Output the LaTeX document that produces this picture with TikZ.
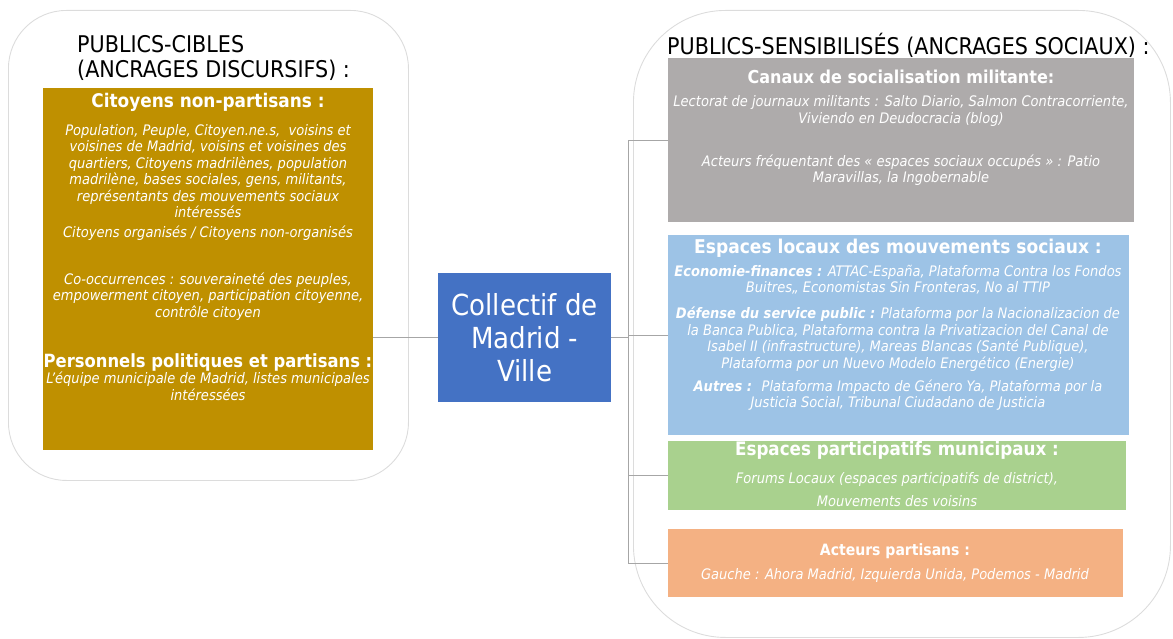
\documentclass[tikz,border=0pt]{standalone}
\usepackage{fontspec}
\setmainfont{DejaVu Sans Condensed}
\definecolor{goldb}{HTML}{BF9000}
\definecolor{grayb}{HTML}{AEABAB}
\definecolor{blueb}{HTML}{9DC3E6}
\definecolor{greenb}{HTML}{A9D18E}
\definecolor{orangeb}{HTML}{F4B183}
\definecolor{centerb}{HTML}{4472C4}
\definecolor{panelline}{HTML}{DCDCDC}
\definecolor{connline}{HTML}{A6A6A6}
\newcommand{\fhead}{\fontsize{23}{25}\selectfont}
\newcommand{\fbody}{\fontsize{14.5}{16.5}\selectfont\itshape}
\newcommand{\ftitle}[1]{\fontsize{#1}{20}\selectfont\bfseries}
\begin{document}
\begin{tikzpicture}[x=1pt,y=-1pt,
  panel/.style={draw=panelline, line width=0.9pt, fill=none, minimum width=#1, anchor=north west},
  box/.style={rectangle, draw=none, inner sep=0, anchor=north west},
  txt/.style={text=white, align=center, inner sep=0},
  head/.style={text=black, align=left, inner sep=0, anchor=west, font=\fhead},
  conn/.style={draw=connline, line width=0.9pt}]
\useasboundingbox (0,0) rectangle (1173,639);
% panels
\node[panel=400pt, minimum height=470pt, rounded corners=58pt] (lpanel) at (8,10) {};
\node[panel=537pt, minimum height=627pt, rounded corners=92pt] (rpanel) at (633,10) {};
% headings
\node[head] (lhead) at (77,57.5) {PUBLICS-CIBLES\\(ANCRAGES DISCURSIFS) :};
\node[head] (rhead) at (667,45) {PUBLICS-SENSIBILISÉS (ANCRAGES SOCIAUX) :};
% left gold box
\node[box, fill=goldb, minimum width=330pt, minimum height=362pt] (gold) at (43,88) {};
\node[txt, font=\ftitle{18.8}] (g1) at (208,102) {Citoyens non-partisans :};
\node[txt, font=\fbody] (g2) at (208,171) {Population, Peuple, Citoyen.ne.s,~ voisins et\\voisines de Madrid, voisins et voisines des\\quartiers, Citoyens madrilènes, population\\madrilène, bases sociales, gens, militants,\\représentants des mouvements sociaux\\intéressés};
\node[txt, font=\fbody] (g3) at (208,233) {Citoyens organisés / Citoyens non-organisés};
\node[txt, font=\fbody] (g4) at (208,296.5) {Co-occurrences : souveraineté des peuples,\\empowerment citoyen, participation citoyenne,\\contrôle citoyen};
\node[txt, font=\ftitle{18.2}] (g5) at (208,362) {Personnels politiques et partisans :};
\node[txt, font=\fbody] (g6) at (208,386.5) {L’équipe municipale de Madrid, listes municipales\\intéressées};
% center box
\node[box, fill=centerb, minimum width=173pt, minimum height=129pt] (center) at (438,273) {};
\node[txt, font=\fontsize{29}{33}\selectfont] (ctext) at (center.center) {Collectif de\\Madrid -\\Ville};
% right boxes
\node[box, fill=grayb, minimum width=466pt, minimum height=164pt] (gray) at (668,58) {};
\node[txt, font=\ftitle{17.8}] (r1) at (901,77) {Canaux de socialisation militante:};
\node[txt, font=\fbody] (r2) at (901,111) {Lectorat de journaux militants : Salto Diario, Salmon Contracorriente,\\Viviendo en Deudocracia (blog)};
\node[txt, font=\fbody] (r3) at (901,170) {Acteurs fréquentant des « espaces sociaux occupés » : Patio\\Maravillas, la Ingobernable};
\node[box, fill=blueb, minimum width=461pt, minimum height=200pt] (blue) at (668,235) {};
\node[txt, font=\ftitle{19}] (b1) at (898,248) {Espaces locaux des mouvements sociaux :};
\node[txt, font=\fbody] (b2) at (898,279.5) {\textbf{Economie-finances :} ATTAC-España, Plataforma Contra los Fondos\\Buitres,, Economistas Sin Fronteras, No al TTIP};
\node[txt, font=\fbody] (b3) at (898,339) {\textbf{Défense du service public :} Plataforma por la Nacionalizacion de\\la Banca Publica, Plataforma contra la Privatizacion del Canal de\\Isabel II (infrastructure), Mareas Blancas (Santé Publique),\\Plataforma por un Nuevo Modelo Energético (Energie)};
\node[txt, font=\fbody] (b4) at (898,395) {\textbf{Autres :}~ Plataforma Impacto de Género Ya, Plataforma por la\\Justicia Social, Tribunal Ciudadano de Justicia};
\node[box, fill=greenb, minimum width=458pt, minimum height=69pt] (green) at (668,441) {};
\node[txt, font=\ftitle{18.6}] (e1) at (897,450) {Espaces participatifs municipaux :};
\node[txt, font=\fontsize{14.5}{23}\selectfont\itshape] (e2) at (897,489.5) {Forums Locaux (espaces participatifs de district),\\Mouvements des voisins};
\node[box, fill=orangeb, minimum width=455pt, minimum height=68pt] (orange) at (668,529) {};
\node[txt, font=\ftitle{15.6}] (o1) at (895,551) {Acteurs partisans :};
\node[txt, font=\fbody] (o2) at (895,575) {Gauche : Ahora Madrid, Izquierda Unida, Podemos - Madrid};
% connectors
\draw[conn] (center.west) -- (center.west -| gold.east);
\coordinate (trunk) at ([xshift=17pt]center.east);
\draw[conn] (center.east) -- (trunk);
\draw[conn] (trunk) |- (gray.west);
\draw[conn] (trunk) |- (blue.west);
\draw[conn] (trunk) |- (green.west);
\draw[conn] (trunk) |- (orange.west);
\end{tikzpicture}
\end{document}
